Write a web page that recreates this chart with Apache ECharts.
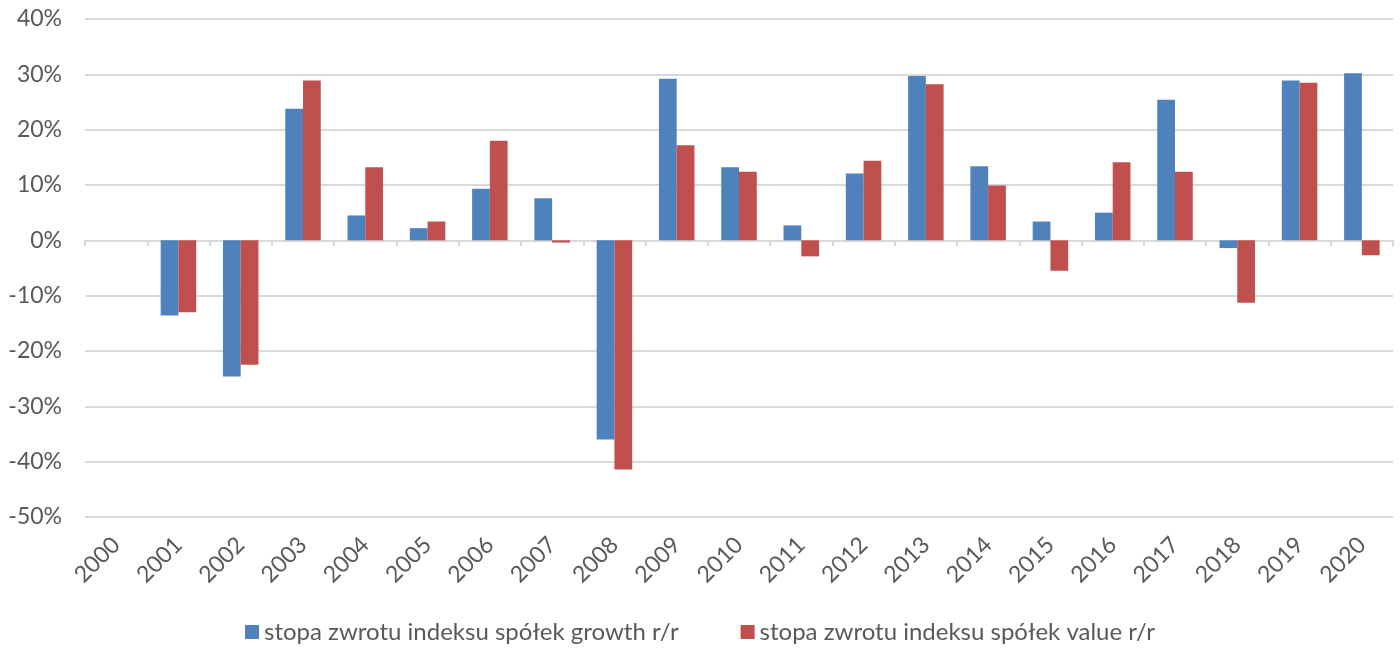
<!DOCTYPE html>
<html>
<head>
<meta charset="utf-8">
<script src="https://cdn.jsdelivr.net/npm/echarts@6/dist/echarts.min.js"></script>
<style>
  html, body { margin: 0; padding: 0; background: #fff; }
  #chart { width: 1400px; height: 652px; }
</style>
</head>
<body>
<div id="chart"></div>
<script>
// lata
const years = ['2000', '2001', '2002', '2003', '2004', '2005', '2006', '2007', '2008', '2009', '2010',
  '2011', '2012', '2013', '2014', '2015', '2016', '2017', '2018', '2019', '2020'];

// stopy zwrotu w %
const growth = [null, -13.6, -24.6, 23.8, 4.5, 2.2, 9.3, 7.6, -36.0, 29.2, 13.2,
  2.7, 12.1, 29.7, 13.4, 3.4, 5.0, 25.4, -1.4, 28.9, 30.2];
const value = [null, -13.0, -22.5, 28.9, 13.2, 3.4, 18.0, -0.4, -41.4, 17.2, 12.4,
  -2.9, 14.4, 28.2, 9.9, -5.5, 14.1, 12.4, -11.3, 28.5, -2.7];

const seriesNames = ['stopa zwrotu indeksu spółek growth r/r', 'stopa zwrotu indeksu spółek value r/r'];

const font = 'Lato, "Open Sans", sans-serif';
const textColor = '#595959';

const chart = echarts.init(document.getElementById('chart'));

chart.setOption({
  animation: false,
  backgroundColor: '#fff',
  grid: { left: 85, right: 7, top: 19, bottom: 135, containLabel: false },
  legend: {
    bottom: 3,
    left: 'center',
    itemWidth: 14,
    itemHeight: 14,
    itemGap: 62,
    icon: 'rect',
    textStyle: { fontFamily: font, fontSize: 24, color: textColor },
    data: seriesNames,
  },
  xAxis: {
    type: 'category',
    data: years,
    axisLine: { lineStyle: { color: '#d9d9d9', width: 2 } },
    axisTick: { show: true, length: 6, lineStyle: { color: '#d9d9d9', width: 2 } },
    axisLabel: {
      rotate: 45,
      margin: 24,
      fontFamily: font,
      fontSize: 23,
      color: textColor,
      interval: 0,
    },
  },
  yAxis: {
    type: 'value',
    min: -50,
    max: 40,
    interval: 10,
    axisLine: { show: false },
    axisTick: { show: false },
    axisLabel: {
      formatter: '{value}%',
      margin: 23,
      fontFamily: font,
      fontSize: 23,
      color: textColor,
    },
    splitLine: { lineStyle: { color: '#d9d9d9', width: 2 } },
  },
  series: [
    {
      name: seriesNames[0],
      type: 'bar',
      data: growth,
      itemStyle: { color: '#4f81bd' },
      barGap: '0%',
      barCategoryGap: '43%',
    },
    {
      name: seriesNames[1],
      type: 'bar',
      data: value,
      itemStyle: { color: '#c0504d' },
    },
  ],
});
</script>
</body>
</html>
